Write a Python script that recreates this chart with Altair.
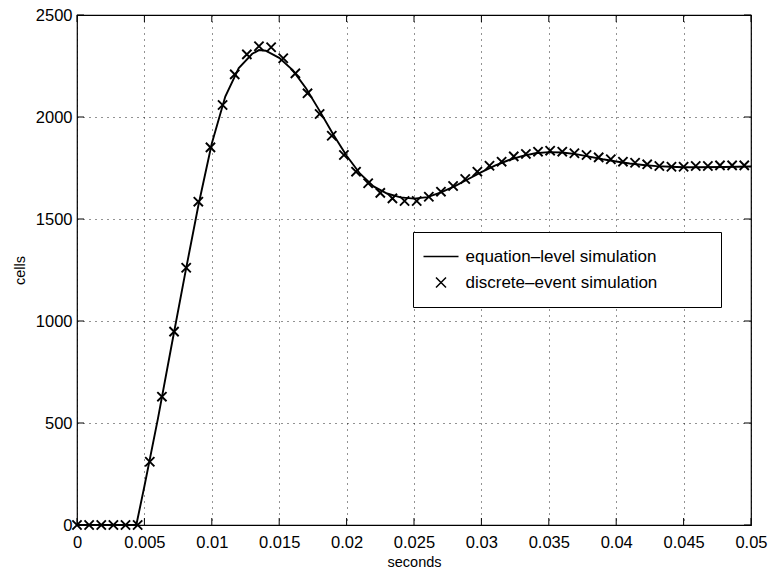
import altair as alt
import pandas as pd

# ---------------- data ----------------
marker_t = [0.0, 0.0009, 0.0018, 0.0027, 0.0036, 0.0045, 0.0054, 0.0063, 0.0072, 0.0081,
            0.0090, 0.0099, 0.0108, 0.0117, 0.0126, 0.0135, 0.0144, 0.0153, 0.0162, 0.0171,
            0.0180, 0.0189, 0.0198, 0.0207, 0.0216, 0.0225, 0.0234, 0.0243, 0.0252, 0.0261,
            0.0270, 0.0279, 0.0288, 0.0297, 0.0306, 0.0315, 0.0324, 0.0333, 0.0342, 0.0351,
            0.0360, 0.0369, 0.0378, 0.0387, 0.0396, 0.0405, 0.0414, 0.0423, 0.0432, 0.0441,
            0.0450, 0.0459, 0.0468, 0.0477, 0.0486, 0.0495]
marker_cells = [0, 0, 0, 0, 0, 0, 310, 629, 948, 1261,
                1585, 1851, 2059, 2209, 2307, 2347, 2342, 2288, 2214, 2116,
                2015, 1908, 1814, 1732, 1675, 1628, 1601, 1588, 1588, 1609,
                1634, 1662, 1696, 1732, 1761, 1781, 1807, 1819, 1830, 1835,
                1830, 1822, 1814, 1802, 1793, 1781, 1776, 1768, 1760, 1756,
                1756, 1760, 1760, 1763, 1763, 1763]

line_t = [0.0, 0.0044, 0.005, 0.006, 0.007, 0.008, 0.009, 0.010, 0.011, 0.012,
          0.013, 0.0135, 0.014, 0.015, 0.016, 0.017, 0.018, 0.019, 0.020, 0.021,
          0.022, 0.023, 0.024, 0.025, 0.026, 0.027, 0.028, 0.029, 0.030, 0.031,
          0.032, 0.033, 0.034, 0.035, 0.036, 0.037, 0.038, 0.039, 0.040, 0.041,
          0.042, 0.043, 0.044, 0.045, 0.046, 0.048, 0.050]
line_cells = [0, 0, 190, 520, 875, 1225, 1565, 1870, 2100, 2240,
              2310, 2328, 2325, 2290, 2230, 2140, 2030, 1915, 1810, 1722,
              1660, 1625, 1606, 1600, 1607, 1630, 1660, 1695, 1730, 1762,
              1788, 1808, 1822, 1828, 1826, 1818, 1806, 1793, 1782, 1772,
              1765, 1759, 1756, 1754, 1754, 1755, 1757]

series_names = ["equation\u2013level simulation", "discrete\u2013event simulation"]
x_ticks = [0, 0.005, 0.01, 0.015, 0.02, 0.025, 0.03, 0.035, 0.04, 0.045, 0.05]
y_ticks = [0, 500, 1000, 1500, 2000, 2500]

W, H = 674, 510
FONT = "Liberation Sans"

df_line = pd.DataFrame({"t": line_t, "cells": line_cells, "series": series_names[0]})
df_pts = pd.DataFrame({"t": marker_t, "cells": marker_cells, "series": series_names[1]})
df_xt = pd.DataFrame({"t": x_ticks})
df_yt = pd.DataFrame({"cells": y_ticks})

xs = alt.Scale(domain=[0, 0.05], nice=False, zero=False)
ys = alt.Scale(domain=[0, 2500], nice=False, zero=False)

grid_common = dict(grid=True, gridColor="black", gridDash=[1, 5], gridWidth=1, gridOpacity=0.85,
                   ticks=False, domain=False, labelFont=FONT, labelFontSize=16.5, labelColor="black",
                   titleFont=FONT, titleFontSize=14.5, titleFontWeight="normal", titleColor="black")

xaxis = alt.Axis(values=x_ticks, labelExpr="format(datum.value, '~g')", labelPadding=9,
                 title="seconds", titlePadding=5, labelFlush=False, labelOverlap=False, **grid_common)
yaxis = alt.Axis(values=y_ticks, format="d", labelPadding=5, title="cells", titlePadding=8,
                 labelOverlap=False, **grid_common)

X = alt.X("t:Q", scale=xs, axis=xaxis)
Y = alt.Y("cells:Q", scale=ys, axis=yaxis)

line = alt.Chart(df_line).mark_line(color="black", strokeWidth=1.9).encode(x=X, y=Y)

xpath = "M-1,-1L1,1M-1,1L1,-1"
lpath = "M-3.5,0H3.5"
pad_str = "\u00a0" * 10 + "\u200b"

pts = alt.Chart(df_pts).mark_point(filled=False, size=85, strokeWidth=1.9, color="black", opacity=1).encode(
    x=X, y=Y,
    shape=alt.Shape("series:N",
                    scale=alt.Scale(domain=series_names, range=[lpath, xpath]),
                    legend=alt.Legend(title=None, orient="none", legendX=336, legendY=217,
                                      strokeColor="black", fillColor="white", padding=16,
                                      rowPadding=8, labelFont=FONT, labelFontSize=17,
                                      labelColor="black", labelOffset=16, symbolOffset=3.5,
                                      labelLimit=0,
                                      symbolStrokeWidth=1.5, symbolStrokeColor="black",
                                      labelExpr="datum.label + '" + pad_str + "'")),
)

tick_style = dict(color="black", thickness=1, size=7, opacity=1)
xt_bottom = alt.Chart(df_xt).mark_tick(**tick_style).encode(x=X, y=alt.value(H - 3.5))
xt_top = alt.Chart(df_xt).mark_tick(**tick_style).encode(x=X, y=alt.value(3.5))
yt_left = alt.Chart(df_yt).mark_tick(**tick_style).encode(y=Y, x=alt.value(3.5))
yt_right = alt.Chart(df_yt).mark_tick(**tick_style).encode(y=Y, x=alt.value(W - 3.5))

chart = alt.layer(line, pts, xt_bottom, xt_top, yt_left, yt_right).properties(
    width=W, height=H,
    autosize=alt.AutoSizeParams(type="none"),
    padding={"left": 77, "top": 15, "right": 17, "bottom": 46},
    background="white",
).configure_view(stroke="black", strokeWidth=1.2)

chart.save("out.html", embed_options={"renderer": "svg", "actions": False})
